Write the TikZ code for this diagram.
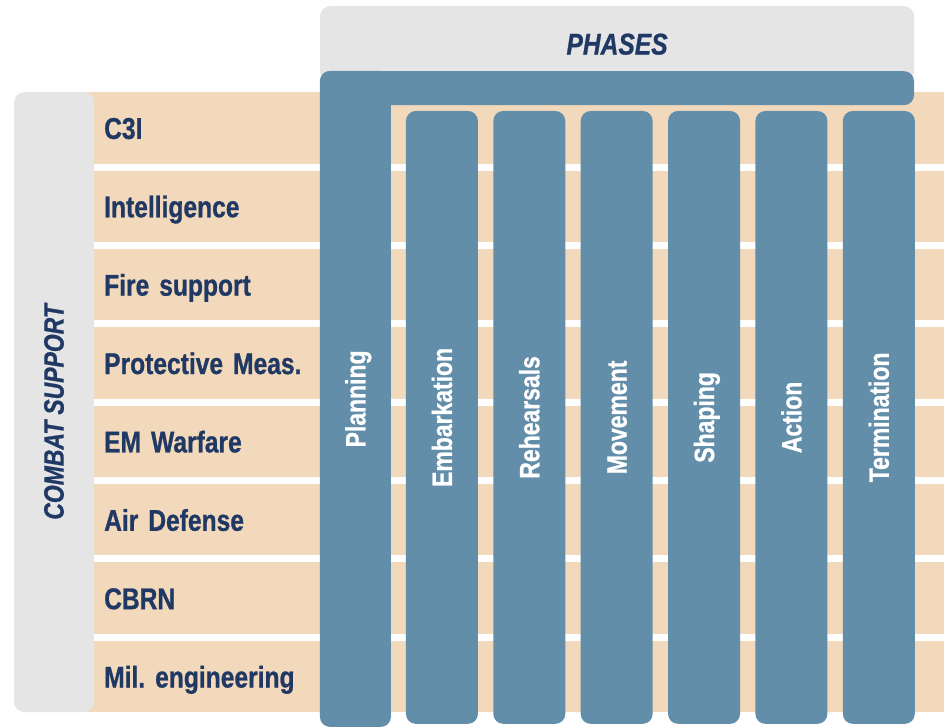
\documentclass[tikz,border=0pt]{standalone}
\usepackage{fontspec}
\setmainfont{Liberation Sans}
\newfontfamily\narrow{Liberation Sans}[FakeStretch=0.82,WordSpace=0.55,FakeBold=0.8]
\frenchspacing
\usetikzlibrary{positioning}
\definecolor{sand}{HTML}{F2D9BB}
\definecolor{steel}{HTML}{628EA9}
\definecolor{pale}{HTML}{E5E5E5}
\definecolor{navy}{HTML}{1F3864}

\begin{document}
\begin{tikzpicture}[x=1pt,y=-1pt,
			band/.style={fill=sand,anchor=north west,minimum height=71.4pt,text width=821pt,inner xsep=19pt,align=left,
				text height=22pt,text depth=0pt,font=\narrow\bfseries\fontsize{30}{36}\selectfont,text=navy},
			phase/.style={fill=steel,rounded corners=10pt,rotate=90,minimum width=613pt,minimum height=72pt,
				text height=20pt,text depth=0pt,font=\narrow\bfseries\fontsize{28}{34}\selectfont,text=white},
			tab/.style={fill=pale,rounded corners=10pt,inner sep=0pt}]
			\path[fill=white] (0,0) rectangle (944,727);
			\foreach \lab [count=\i] in {C3I,Intelligence,Fire support,Protective Meas.,EM Warfare,Air Defense,CBRN,Mil. engineering}
				\node[band] (row\i) at (85,{92+78.4*(\i-1)}) {\lab};
			\node[tab,minimum width=80pt,minimum height=620pt,anchor=north west] (support) at (14,92) {};
			\node[rotate=90,text=navy,font=\narrow\bfseries\itshape\fontsize{28}{34}\selectfont] (supportlabel) at (54,412) {COMBAT\hspace{6pt}SUPPORT};
			\node[tab,minimum width=594pt,minimum height=76pt,anchor=north west,
				text=navy,font=\narrow\bfseries\itshape\fontsize{30}{36}\selectfont] (phasehead) at (320,6) {PHASES};
			\foreach \lab [count=\i] in {Embarkation,Rehearsals,Movement,Shaping,Action,Termination}
				\node[phase] (phase\i) at ({442+87.4*(\i-1)},417.5) {\lab};
			\node[fill=steel,rounded corners=10pt,minimum width=594pt,minimum height=34pt,anchor=north west] (planbar) at (320,71) {};
			\node[phase,minimum width=656pt,minimum height=71pt] (planning) at (355.5,399) {Planning};
		\end{tikzpicture}
\end{document}
